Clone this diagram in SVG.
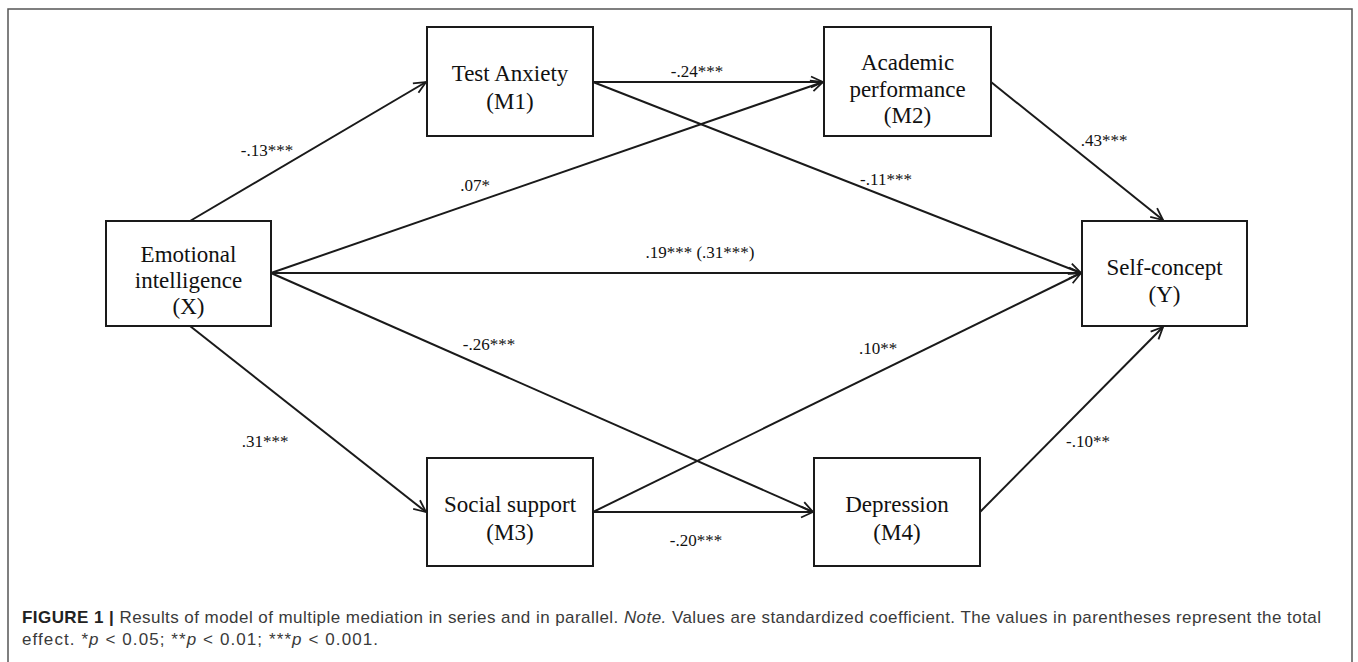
<svg xmlns="http://www.w3.org/2000/svg" width="1358" height="662" viewBox="0 0 1358 662">
<style>
.box{fill:#fff;stroke:#1a1a1a;stroke-width:2}
.nt{font-family:"Liberation Serif","Times New Roman",serif;font-size:23px;fill:#111;text-anchor:middle}
.el{font-family:"Liberation Serif","Times New Roman",serif;font-size:17px;fill:#111;text-anchor:middle}
.edge{fill:none;stroke:#1a1a1a;stroke-width:2;marker-end:url(#arr)}
.cap{font-family:"Liberation Sans",Arial,sans-serif;font-size:17px;fill:#3a3a3a}
</style>
<defs>
<marker id="arr" markerUnits="userSpaceOnUse" markerWidth="16" markerHeight="16" viewBox="-14 -8 16 16" refX="0" refY="0" orient="auto">
<path d="M-12,-5.5 L0,0 L-12,5.5" fill="none" stroke="#1a1a1a" stroke-width="1.8"/>
</marker>
</defs>
<rect width="1358" height="662" fill="#fff"/>
<path d="M8,670 V9 H1352 V670" fill="none" stroke="#555" stroke-width="1.5"/>
<g id="connectors">
<line class="edge" x1="190" y1="221" x2="426" y2="82"/>
<line class="edge" x1="271" y1="273" x2="823" y2="82"/>
<line class="edge" x1="593" y1="82" x2="823" y2="82"/>
<line class="edge" x1="593" y1="82" x2="1081" y2="273"/>
<line class="edge" x1="271" y1="273" x2="1081" y2="273"/>
<line class="edge" x1="271" y1="273" x2="813" y2="512"/>
<line class="edge" x1="190" y1="326" x2="426" y2="512"/>
<line class="edge" x1="593" y1="512" x2="1081" y2="273"/>
<line class="edge" x1="593" y1="512" x2="813" y2="512"/>
<line class="edge" x1="991" y1="82" x2="1163" y2="220"/>
<line class="edge" x1="980" y1="512" x2="1163" y2="327"/>
</g>
<g id="edge-labels">
<text class="el" x="267" y="156">-.13***</text>
<text class="el" x="475" y="191">.07*</text>
<text class="el" x="697" y="77">-.24***</text>
<text class="el" x="1104" y="146">.43***</text>
<text class="el" x="886" y="185">-.11***</text>
<text class="el" x="700" y="258">.19*** (.31***)</text>
<text class="el" x="489" y="350">-.26***</text>
<text class="el" x="265" y="447">.31***</text>
<text class="el" x="878" y="354">.10**</text>
<text class="el" x="1088" y="447">-.10**</text>
<text class="el" x="696" y="546">-.20***</text>
</g>
<g id="node-x">
<rect class="box" x="106" y="221" width="165" height="105"/>
<text class="nt" x="188.5" y="262">Emotional</text>
<text class="nt" x="188.5" y="288">intelligence</text>
<text class="nt" x="188.5" y="314">(X)</text>
</g>
<g id="node-m1">
<rect class="box" x="427" y="27" width="166" height="109"/>
<text class="nt" x="510" y="81">Test Anxiety</text>
<text class="nt" x="510" y="109">(M1)</text>
</g>
<g id="node-m2">
<rect class="box" x="824" y="27" width="167" height="109"/>
<text class="nt" x="907.5" y="70">Academic</text>
<text class="nt" x="907.5" y="96.5">performance</text>
<text class="nt" x="907.5" y="123">(M2)</text>
</g>
<g id="node-y">
<rect class="box" x="1082" y="221" width="165" height="105"/>
<text class="nt" x="1164.5" y="275">Self-concept</text>
<text class="nt" x="1164.5" y="302">(Y)</text>
</g>
<g id="node-m3">
<rect class="box" x="427" y="458" width="166" height="108"/>
<text class="nt" x="510" y="512">Social support</text>
<text class="nt" x="510" y="540">(M3)</text>
</g>
<g id="node-m4">
<rect class="box" x="814" y="458" width="166" height="108"/>
<text class="nt" x="897" y="512">Depression</text>
<text class="nt" x="897" y="540">(M4)</text>
</g>
<g id="caption">
<text class="cap" x="22" y="623" textLength="1299" lengthAdjust="spacing"><tspan font-weight="bold" fill="#222">FIGURE 1 |</tspan> Results of model of multiple mediation in series and in parallel. <tspan font-style="italic">Note.</tspan> Values are standardized coefficient. The values in parentheses represent the total</text>
<text class="cap" x="22" y="645" font-size="17.5" textLength="356" lengthAdjust="spacing">effect. *<tspan font-style="italic">p</tspan> &lt; 0.05; **<tspan font-style="italic">p</tspan> &lt; 0.01; ***<tspan font-style="italic">p</tspan> &lt; 0.001.</text>
</g>
</svg>
